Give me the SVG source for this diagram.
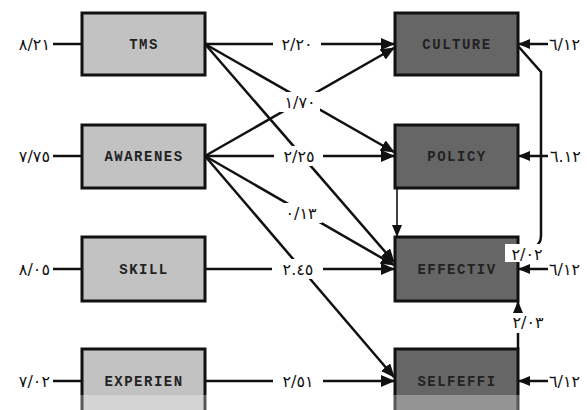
<svg xmlns="http://www.w3.org/2000/svg" width="587" height="410" viewBox="0 0 587 410">
<style>
.lbox{fill:#c2c2c2;stroke:#111;stroke-width:3}
.dbox{fill:#666;stroke:#111;stroke-width:3}
.nt{font-family:"Liberation Mono",monospace;font-weight:bold;font-size:14px;letter-spacing:1.5px;fill:#222;text-anchor:middle}
.ln{fill:none;stroke:#111;stroke-width:2.5}
.th{fill:none;stroke:#111;stroke-width:1.6}
.lb{font-family:"DejaVu Sans",sans-serif;font-size:16px;letter-spacing:1px;fill:#111;direction:ltr;unicode-bidi:bidi-override}
.bg{fill:#fff}
</style>
<defs>
<marker id="ah" markerUnits="userSpaceOnUse" markerWidth="14" markerHeight="12" refX="13" refY="6" orient="auto">
<path d="M0,0 L14,6 L0,12 z" fill="#111"/>
</marker>
<marker id="as" markerUnits="userSpaceOnUse" markerWidth="12" markerHeight="10" refX="11" refY="5" orient="auto">
<path d="M0,0 L12,5 L0,10 z" fill="#111"/>
</marker>
</defs>
<rect width="587" height="410" fill="#fff"/>
<g id="connectors">
<path class="ln" d="M53,44 H82"/>
<path class="ln" d="M53,156 H82"/>
<path class="ln" d="M53,269 H82"/>
<path class="ln" d="M53,381 H82"/>
<path class="ln" d="M205,44 H394" marker-end="url(#ah)"/>
<path class="ln" d="M205,156 H394" marker-end="url(#ah)"/>
<path class="ln" d="M205,269 H394" marker-end="url(#ah)"/>
<path class="ln" d="M205,381 H394" marker-end="url(#ah)"/>
<path class="ln" d="M205,44 L394,152" marker-end="url(#ah)"/>
<path class="ln" d="M205,44 L394,262" marker-end="url(#ah)"/>
<path class="ln" d="M205,156 L394,48" marker-end="url(#ah)"/>
<path class="ln" d="M205,156 L394,265" marker-end="url(#ah)"/>
<path class="ln" d="M205,156 L394,377" marker-end="url(#ah)"/>
<path class="th" d="M397,188 V236" marker-end="url(#as)"/>
<path class="ln" d="M548,44 H519" marker-end="url(#as)"/>
<path class="ln" d="M548,156 H519" marker-end="url(#as)"/>
<path class="ln" d="M548,269 H519" marker-end="url(#as)"/>
<path class="ln" d="M548,381 H519" marker-end="url(#as)"/>
<path class="ln" d="M518,46 L541,72 V236 Q541,245 532,248"/>
<path class="ln" d="M518,349 V302" marker-end="url(#as)"/>
</g>
<g id="n-tms"><rect class="lbox" x="82" y="13" width="123" height="62"/><text class="nt" x="144" y="49">TMS</text></g>
<g id="n-awarenes"><rect class="lbox" x="82" y="125" width="123" height="63"/><text class="nt" x="144" y="161">AWARENES</text></g>
<g id="n-skill"><rect class="lbox" x="82" y="237" width="123" height="64"/><text class="nt" x="144" y="274">SKILL</text></g>
<g id="n-experien"><rect class="lbox" x="82" y="349" width="123" height="64"/><text class="nt" x="144" y="386">EXPERIEN</text></g>
<g id="n-culture"><rect class="dbox" x="395" y="13" width="123" height="62"/><text class="nt" x="457" y="49">CULTURE</text></g>
<g id="n-policy"><rect class="dbox" x="395" y="125" width="123" height="63"/><text class="nt" x="457" y="161">POLICY</text></g>
<g id="n-effectiv"><rect class="dbox" x="395" y="237" width="123" height="64"/><text class="nt" x="457" y="274">EFFECTIV</text></g>
<g id="n-selfeffi"><rect class="dbox" x="395" y="349" width="123" height="64"/><text class="nt" x="457" y="386">SELFEFFI</text></g>
<g id="labels">
<text class="lb" x="50" y="50" text-anchor="end">٨/٢١</text>
<text class="lb" x="50" y="162" text-anchor="end">٧/٧٥</text>
<text class="lb" x="50" y="275" text-anchor="end">٨/٠٥</text>
<text class="lb" x="50" y="387" text-anchor="end">٧/٠٢</text>
<rect class="bg" x="273" y="35" width="48" height="18"/>
<text class="lb" x="297" y="50" text-anchor="middle">٢/٢٠</text>
<rect class="bg" x="280" y="92" width="40" height="20"/>
<text class="lb" x="300" y="108" text-anchor="middle">١/٧٠</text>
<rect class="bg" x="274" y="146" width="49" height="20"/>
<text class="lb" x="299" y="162" text-anchor="middle">٢/٢٥</text>
<rect class="bg" x="280" y="203" width="42" height="20"/>
<text class="lb" x="301" y="219" text-anchor="middle">٠/١٣</text>
<rect class="bg" x="272" y="259" width="51" height="20"/>
<text class="lb" x="298" y="275" text-anchor="middle">٢.٤٥</text>
<rect class="bg" x="273" y="371" width="50" height="20"/>
<text class="lb" x="298" y="387" text-anchor="middle">٢/٥١</text>
<text class="lb" x="549" y="50">٦/١٢</text>
<text class="lb" x="550" y="162">٦.١٢</text>
<text class="lb" x="549" y="275">٦/١٢</text>
<text class="lb" x="549" y="387">٦/١٢</text>
<rect class="bg" x="505" y="244" width="44" height="18"/>
<text class="lb" x="527" y="260" text-anchor="middle">٢/٠٢</text>
<rect class="bg" x="505" y="313" width="44" height="20"/>
<text class="lb" x="528" y="328" text-anchor="middle">٢/٠٣</text>
</g>
<rect x="0" y="395" width="587" height="15" fill="#fff" opacity="0.3"/>
</svg>
